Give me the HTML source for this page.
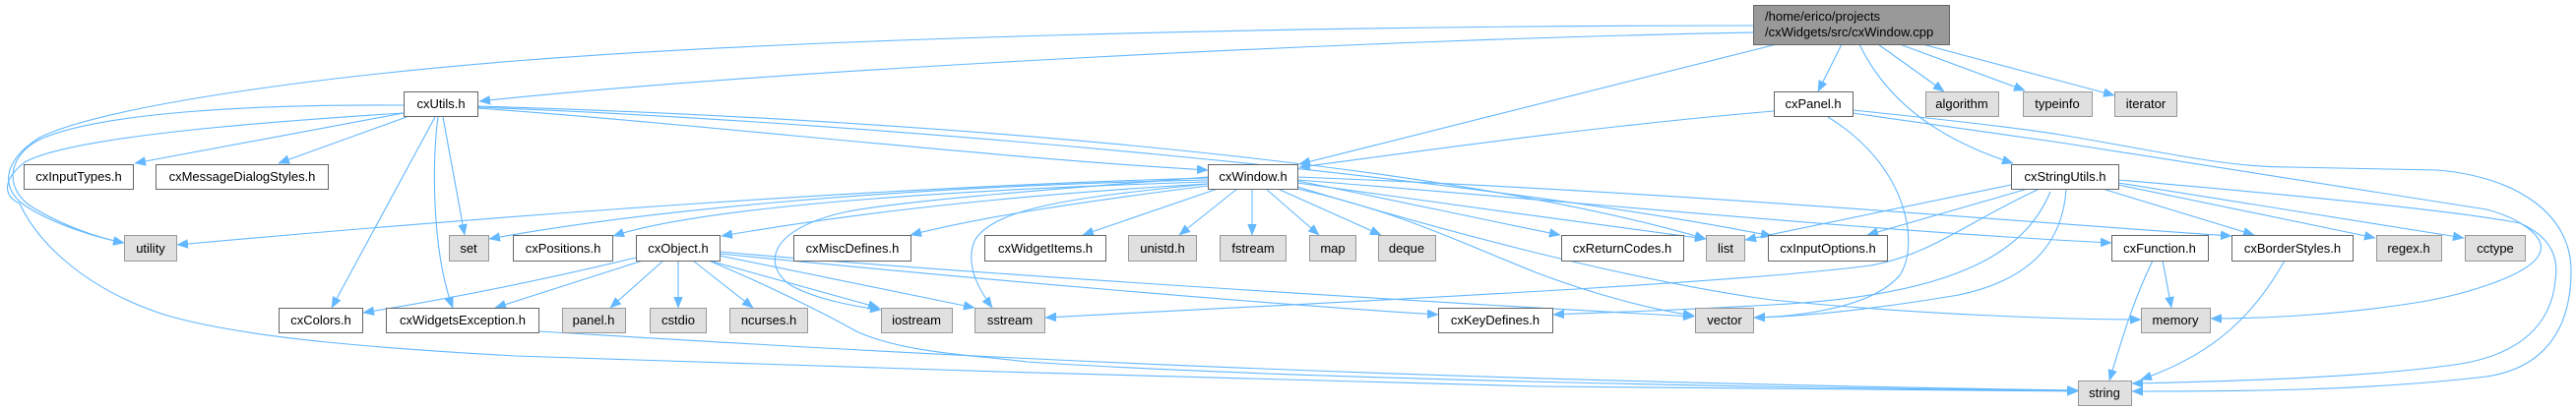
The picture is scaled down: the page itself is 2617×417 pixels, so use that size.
<!DOCTYPE html>
<html><head><meta charset="utf-8"><style>
html,body{margin:0;padding:0;background:#fff;}
svg{display:block;}
text{font-family:"Liberation Sans",Arial,sans-serif;font-size:13px;fill:#000;}
.e{fill:none;stroke:#63b8ff;stroke-width:1.1;}
.w{fill:#fff;stroke:#666;stroke-width:1;}
.g{fill:#e0e0e0;stroke:#999;stroke-width:1;}
</style></head><body>
<svg width="2617" height="417" viewBox="0 0 2617 417" xmlns="http://www.w3.org/2000/svg">
<defs>
<marker id="a" markerUnits="userSpaceOnUse" markerWidth="12" markerHeight="9" refX="11" refY="4.5" orient="auto">
<path d="M0,0 L11,4.5 L0,9 z" fill="#63b8ff" stroke="#63b8ff" stroke-width="0.5"/>
</marker>
</defs>
<g class="e" marker-end="url(#a)">
<!-- root edges -->
<path d="M1781,33 C1400,40 800,70 487,103"/>
<path d="M1781,26 C1300,26 800,40 523,62 C300,80 100,110 40,140 C0,165 0,195 30,212 C60,230 100,242 126,247"/>
<path d="M1805,45 L1320,167"/>
<path d="M1871,45 L1847,93"/>
<path d="M1889,45 C1920,110 1980,145 2045,166"/>
<path d="M1908,45 L1975,93"/>
<path d="M1930,45 L2057,92"/>
<path d="M1953,45 L2148,97"/>
<!-- cxUtils edges -->
<path d="M410,115 L137,166"/>
<path d="M413,119 L283,166"/>
<path d="M442,119 L337,313"/>
<path d="M445,119 C438,170 440,260 460,313"/>
<path d="M450,119 L472,239"/>
<path d="M410,107 C250,106 100,115 40,142 C5,160 5,195 35,212 C65,230 100,242 126,247"/>
<path d="M410,115 C250,125 70,140 25,165 C0,185 5,200 20,207 C40,250 90,295 167,320 C250,345 400,355 523,362 C800,372 1300,387 1563,393 C1800,396 2000,398 2111,398"/>
<path d="M485,110 C700,125 1000,160 1227,173"/>
<path d="M485,108 C900,120 1450,160 1733,243"/>
<path d="M485,109 C900,125 1500,180 1800,240"/>
<!-- cxPanel edges -->
<path d="M1802,113 C1600,130 1400,160 1320,170"/>
<path d="M1857,119 C1940,170 1950,250 1930,280 C1900,315 1820,322 1782,323"/>
<path d="M1882,112 C1980,122 2050,130 2093,137 C2200,155 2260,170 2326,170 L2476,173 C2560,180 2612,220 2612,275 C2612,340 2580,375 2526,383 C2400,398 2260,398 2166,398"/>
<path d="M1882,115 C1950,125 2020,135 2093,145 L2526,213 C2560,222 2585,240 2581,255 C2575,280 2500,300 2460,307 C2380,320 2300,324 2246,324"/>
<!-- cxStringUtils edges -->
<path d="M2043,188 L1773,244"/>
<path d="M2060,192 L1897,239"/>
<path d="M2072,192 C2000,225 1960,260 1900,270 C1750,290 1300,310 1062,323"/>
<path d="M2083,195 C2060,250 2000,300 1800,310 C1700,316 1620,318 1578,320"/>
<path d="M2099,193 C2095,250 2060,285 1990,300 C1900,315 1830,322 1782,323"/>
<path d="M2136,192 L2290,239"/>
<path d="M2152,188 L2413,242"/>
<path d="M2152,186 L2503,242"/>
<path d="M2152,183 C2350,200 2500,215 2560,227 C2590,240 2600,260 2596,285 C2592,330 2560,360 2500,370 C2400,385 2250,388 2166,390"/>
<!-- cxFunction / cxBorderStyles -->
<path d="M2197,265 L2206,313"/>
<path d="M2187,265 C2170,300 2160,330 2143,387"/>
<path d="M2321,265 C2290,320 2250,360 2175,386"/>
<!-- cxWindow edges -->
<path d="M1237,192 L1100,239"/>
<path d="M1257,192 L1198,239"/>
<path d="M1272,192 L1272,239"/>
<path d="M1286,192 L1340,239"/>
<path d="M1298,192 L1403,239"/>
<path d="M1227,189 C1100,205 1000,220 925,239"/>
<path d="M1227,187 C1000,200 850,220 733,240"/>
<path d="M1227,185 C900,195 700,215 623,240"/>
<path d="M1227,183 C900,190 650,215 497,243"/>
<path d="M1227,181 C900,190 500,220 180,249"/>
<path d="M1227,180 C1100,190 900,205 853,217 C780,235 775,270 803,290 C830,305 870,312 895,315"/>
<path d="M1227,187 C1100,200 1010,210 990,245 C980,270 995,295 1008,313"/>
<path d="M1318,184 C1400,200 1500,222 1585,239"/>
<path d="M1318,186 C1450,205 1600,225 1733,243"/>
<path d="M1318,183 C1600,205 1900,235 2145,247"/>
<path d="M1318,180 C1700,195 2000,222 2267,240"/>
<path d="M1318,192 C1420,215 1480,245 1560,277 C1620,300 1680,315 1721,321"/>
<path d="M1318,190 C1450,230 1650,285 1800,305 C1950,320 2100,325 2175,325"/>
<!-- cxObject edges -->
<path d="M646,262 C550,285 450,305 369,318"/>
<path d="M653,265 L503,313"/>
<path d="M674,265 L620,313"/>
<path d="M689,265 L689,313"/>
<path d="M704,265 L765,313"/>
<path d="M720,265 L893,313"/>
<path d="M731,260 L990,313"/>
<path d="M720,265 C780,290 840,320 870,337 C920,360 1000,362 1043,368 C1300,385 1800,395 2111,397"/>
<path d="M731,258 C1000,285 1300,310 1461,320"/>
<path d="M731,256 C1000,280 1500,310 1721,322"/>
<!-- cxWidgetsException -->
<path d="M547,337 C800,352 1300,385 2111,397"/>
</g>

<!-- root -->
<rect x="1781.5" y="5.5" width="199" height="40" fill="#999" stroke="#666"/>
<text x="1793" y="21">/home/erico/projects</text>
<text x="1793" y="37">/cxWidgets/src/cxWindow.cpp</text>

<g text-anchor="middle">
<!-- row1 -->
<rect class="w" x="410.5" y="93.5" width="75" height="25"/><text x="448" y="110">cxUtils.h</text>
<rect class="w" x="1802.5" y="93.5" width="80" height="25"/><text x="1842" y="110">cxPanel.h</text>
<rect class="g" x="1956.5" y="93.5" width="74" height="25"/><text x="1993" y="110">algorithm</text>
<rect class="g" x="2055.5" y="93.5" width="70" height="25"/><text x="2090" y="110">typeinfo</text>
<rect class="g" x="2148.5" y="93.5" width="63" height="25"/><text x="2180" y="110">iterator</text>
<!-- row2 -->
<rect class="w" x="24.5" y="167.5" width="111" height="25"/><text x="80" y="184">cxInputTypes.h</text>
<rect class="w" x="158.5" y="167.5" width="175" height="25"/><text x="246" y="184">cxMessageDialogStyles.h</text>
<rect class="w" x="1227.5" y="167.5" width="91" height="25"/><text x="1273" y="184">cxWindow.h</text>
<rect class="w" x="2043.5" y="167.5" width="109" height="25"/><text x="2098" y="184">cxStringUtils.h</text>
<!-- row3 -->
<rect class="g" x="126.5" y="239.5" width="53" height="26"/><text x="153" y="257">utility</text>
<rect class="g" x="456.5" y="239.5" width="40" height="26"/><text x="476" y="257">set</text>
<rect class="w" x="521.5" y="239.5" width="101" height="26"/><text x="572" y="257">cxPositions.h</text>
<rect class="w" x="646.5" y="239.5" width="85" height="26"/><text x="689" y="257">cxObject.h</text>
<rect class="w" x="806.5" y="239.5" width="119" height="26"/><text x="866" y="257">cxMiscDefines.h</text>
<rect class="w" x="1000.5" y="239.5" width="123" height="26"/><text x="1062" y="257">cxWidgetItems.h</text>
<rect class="g" x="1146.5" y="239.5" width="69" height="26"/><text x="1181" y="257">unistd.h</text>
<rect class="g" x="1239.5" y="239.5" width="67" height="26"/><text x="1273" y="257">fstream</text>
<rect class="g" x="1330.5" y="239.5" width="47" height="26"/><text x="1354" y="257">map</text>
<rect class="g" x="1400.5" y="239.5" width="58" height="26"/><text x="1429" y="257">deque</text>
<rect class="w" x="1586.5" y="239.5" width="124" height="26"/><text x="1648" y="257">cxReturnCodes.h</text>
<rect class="g" x="1733.5" y="239.5" width="39" height="26"/><text x="1753" y="257">list</text>
<rect class="w" x="1796.5" y="239.5" width="121" height="26"/><text x="1857" y="257">cxInputOptions.h</text>
<rect class="w" x="2145.5" y="239.5" width="98" height="26"/><text x="2194" y="257">cxFunction.h</text>
<rect class="w" x="2267.5" y="239.5" width="123" height="26"/><text x="2329" y="257">cxBorderStyles.h</text>
<rect class="g" x="2414.5" y="239.5" width="66" height="26"/><text x="2447" y="257">regex.h</text>
<rect class="g" x="2504.5" y="239.5" width="61" height="26"/><text x="2535" y="257">cctype</text>
<!-- row4 -->
<rect class="w" x="283.5" y="313.5" width="85" height="25"/><text x="326" y="330">cxColors.h</text>
<rect class="w" x="392.5" y="313.5" width="155" height="25"/><text x="470" y="330">cxWidgetsException.h</text>
<rect class="g" x="571.5" y="313.5" width="64" height="25"/><text x="603" y="330">panel.h</text>
<rect class="g" x="660.5" y="313.5" width="57" height="25"/><text x="689" y="330">cstdio</text>
<rect class="g" x="741.5" y="313.5" width="79" height="25"/><text x="781" y="330">ncurses.h</text>
<rect class="g" x="895.5" y="313.5" width="72" height="25"/><text x="931" y="330">iostream</text>
<rect class="g" x="990.5" y="313.5" width="71" height="25"/><text x="1026" y="330">sstream</text>
<rect class="w" x="1461.5" y="313.5" width="116" height="25"/><text x="1519" y="330">cxKeyDefines.h</text>
<rect class="g" x="1722.5" y="313.5" width="59" height="25"/><text x="1752" y="330">vector</text>
<rect class="g" x="2175.5" y="313.5" width="70" height="25"/><text x="2210" y="330">memory</text>
<!-- row5 -->
<rect class="g" x="2111.5" y="387.5" width="54" height="25"/><text x="2138" y="404">string</text>
</g>
</svg>
</body></html>
